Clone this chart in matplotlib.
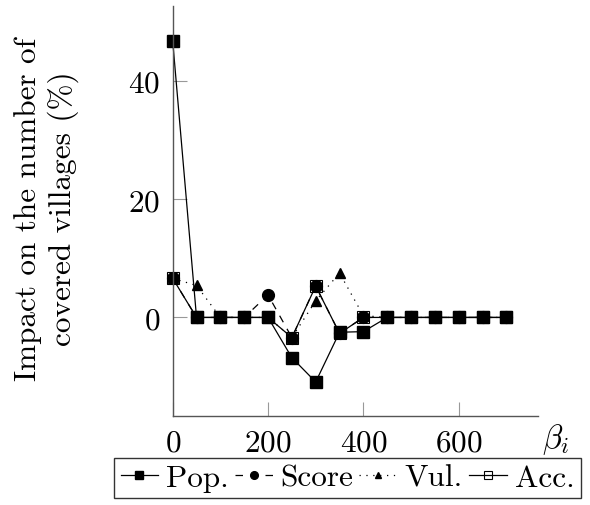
import matplotlib
matplotlib.use("Agg")
import matplotlib.pyplot as plt

plt.rcParams["font.family"] = "serif"
plt.rcParams["font.serif"] = ["cmr10"]
plt.rcParams["mathtext.fontset"] = "cm"
plt.rcParams["axes.formatter.use_mathtext"] = True

beta = [0, 50, 100, 150, 200, 250, 300, 350, 400, 450, 500, 550, 600, 650, 700]
pop = [46.7, 0, 0, 0, 0, -6.8, -10.9, -2.5, -2.4, 0, 0, 0, 0, 0, 0]
score = [6.6, 0, 0, 0, 3.8, -3.4, 5.3, -2.7, 0, 0, 0, 0, 0, 0, 0]
vul = [6.6, 5.4, 0, 0, 0, -3.4, 2.8, 7.5, 0.3, 0, 0, 0, 0, 0, 0]
acc = [6.6, 0, 0, 0, 0, -3.4, 5.3, -2.7, 0, 0, 0, 0, 0, 0, 0]

fs = 22.5

fig = plt.figure(figsize=(5.9, 5.06), dpi=100)
ax = fig.add_axes([0.2927, 0.1765, 0.6197, 0.8095])

lw = 0.9
ax.plot(beta, pop, color="black", lw=lw, marker="s", ms=9, mfc="black", mec="black",
        label="Pop.", clip_on=False)
ax.plot(beta, score, color="black", lw=lw, ls=(0, (6, 6)), marker="o", ms=8.5,
        mfc="black", mec="black", label="Score", clip_on=False)
ax.plot(beta, vul, color="black", lw=lw, ls=(0, (1, 4.5)), marker="^", ms=6.5,
        mfc="black", mec="black", label="Vul.", clip_on=False)
ax.plot(beta, acc, color="black", lw=lw, marker="s", ms=9, mfc="none", mec="black",
        mew=0.8, label="Acc.", clip_on=False)

ax.set_xlim(0, 767)
ax.set_ylim(-16.6, 52.6)
ax.set_xticks([0, 200, 400, 600])
ax.set_yticks([0, 20, 40])

for s in ["top", "right"]:
    ax.spines[s].set_visible(False)
for s in ["left", "bottom"]:
    ax.spines[s].set_color("#555555")
    ax.spines[s].set_linewidth(1.0)

ax.tick_params(direction="in", length=10, width=0.8, color="#999999",
               labelsize=fs, pad=9)

ax.set_ylabel("Impact on the number of\ncovered villages (%)", fontsize=fs,
              linespacing=1.2)
ax.yaxis.label.set_va("center")
ax.yaxis.set_label_coords(-0.345, 0.507)
ax.text(1.046, -0.057, r"$\beta_i$", transform=ax.transAxes, fontsize=fs + 1,
        ha="center", va="center")

leg = ax.legend(loc="center", bbox_to_anchor=(0.589, 0.0534),
                bbox_transform=fig.transFigure, ncol=4, fontsize=fs,
                handlelength=1.2, handletextpad=0.25, columnspacing=0.2,
                borderpad=0.2, borderaxespad=0, frameon=True, fancybox=False,
                markerscale=0.65)
leg.get_frame().set_edgecolor("black")
leg.get_frame().set_linewidth(1.0)

fig.savefig("out.png", dpi=100)
